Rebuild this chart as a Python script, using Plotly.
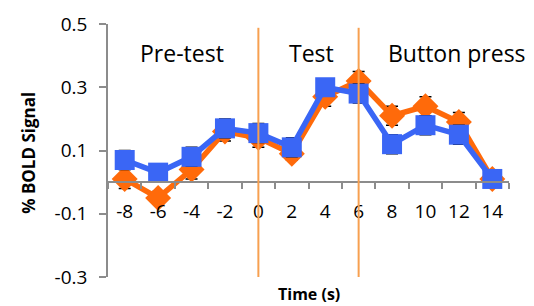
import plotly.graph_objects as go

# Data
times = [-8, -6, -4, -2, 0, 2, 4, 6, 8, 10, 12, 14]
orange_vals = [0.01, -0.05, 0.04, 0.16, 0.14, 0.09, 0.27, 0.32, 0.21, 0.24, 0.19, 0.01]
orange_err = [0.03, 0.02, 0.03, 0.03, 0.03, 0.02, 0.03, 0.03, 0.03, 0.03, 0.03, 0.01]
blue_vals = [0.07, 0.03, 0.08, 0.17, 0.155, 0.11, 0.30, 0.28, 0.12, 0.18, 0.15, 0.01]
blue_err = [0.03, 0.02, 0.03, 0.03, 0.03, 0.03, 0.02, 0.03, 0.03, 0.03, 0.03, 0.01]
phase_bounds = [0, 6]
phase_labels = ["Pre-test", "Test", "Button press"]
phase_label_x = [-4.6, 3.2, 11.9]
y_ticks = [-0.3, -0.1, 0.1, 0.3, 0.5]

ORANGE = "#FF6A0A"
BLUE = "#3A66F5"
VLINE = "#F7A050"
AXIS = "#8C8C8C"
FONT = "Open Sans"

fig = go.Figure()

fig.add_trace(go.Scatter(
    x=times, y=orange_vals, mode="lines+markers",
    line=dict(color=ORANGE, width=5.5),
    marker=dict(symbol="diamond", size=20, color=ORANGE),
    error_y=dict(type="data", array=orange_err, color="black", thickness=1.5, width=6),
    showlegend=False,
))
fig.add_trace(go.Scatter(
    x=times, y=blue_vals, mode="lines+markers",
    line=dict(color=BLUE, width=5.5),
    marker=dict(symbol="square", size=20, color=BLUE),
    error_y=dict(type="data", array=blue_err, color="black", thickness=1.5, width=6),
    showlegend=False,
))

for b in phase_bounds:
    fig.add_shape(type="line", xref="x", yref="paper", x0=b, x1=b, y0=0, y1=0.985,
                  line=dict(color=VLINE, width=2), layer="above")

for lbl, lx in zip(phase_labels, phase_label_x):
    fig.add_annotation(x=lx, y=0.885, xref="x", yref="paper", text=lbl, showarrow=False,
                       font=dict(family=FONT, size=23, color="black"), xanchor="center", yanchor="middle")

fig.add_annotation(x=0.5, y=-0.015, xref="paper", yref="paper", text="<b>Time (s)</b>",
                   showarrow=False, font=dict(family=FONT, size=16, color="black"),
                   xanchor="center", yanchor="top")
fig.add_annotation(x=-0.2, y=0.49, xref="paper", yref="paper", text="<b>% BOLD Signal</b>",
                   showarrow=False, textangle=-90, font=dict(family=FONT, size=17, color="black"),
                   xanchor="center", yanchor="middle")

y_min, y_max = -0.3, 0.5
fig.update_layout(
    width=526, height=298,
    margin=dict(l=100, r=25, t=16, b=29),
    plot_bgcolor="white", paper_bgcolor="white",
    font=dict(family=FONT, size=17, color="black"),
    xaxis=dict(
        range=[-9, 15], tickmode="array", tickvals=times,
        ticktext=[str(t) for t in times],
        ticks="", showgrid=False, zeroline=False, automargin=False,
        showline=True, linecolor=AXIS, linewidth=1.5,
        anchor="free", position=(0 - y_min) / (y_max - y_min),
        ticklabelstandoff=12,
        minor=dict(tickmode="linear", tick0=-9, dtick=2, ticks="outside", ticklen=6,
                   tickcolor=AXIS, tickwidth=1.5, showgrid=False),
        tickfont=dict(family=FONT, size=19),
    ),
    yaxis=dict(
        range=[y_min, y_max], tickmode="array", tickvals=y_ticks,
        ticktext=[f"{v:.1f}" for v in y_ticks],
        ticks="outside", ticklen=7, tickcolor=AXIS, tickwidth=1.5, automargin=False,
        showgrid=False, zeroline=False, showline=True, linecolor=AXIS, linewidth=1.5,
        ticklabelstandoff=8,
        tickfont=dict(family=FONT, size=19),
    ),
)

fig.write_html("out.html")
